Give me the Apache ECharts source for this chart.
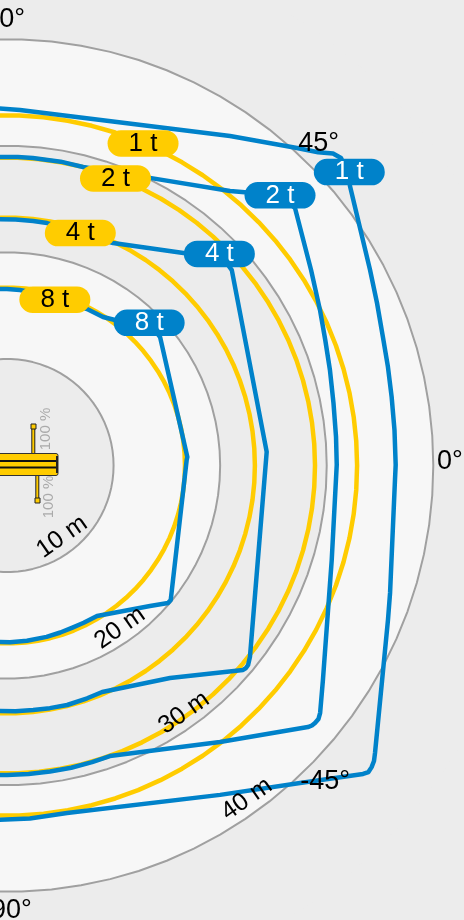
<!DOCTYPE html><html><head><meta charset="utf-8"><style>html,body{margin:0;background:#ececec}#c{width:464px;height:920px}</style></head><body><div id="c"></div>
<script src="https://cdn.jsdelivr.net/npm/echarts@6/dist/echarts.min.js"></script>
<script>
// [range in m, slewing angle in degrees]
const limit1t=[[33.57,92.1],[33.38,87.9],[37.33,55.9],[40.35,47.6],[41.43,45.2],[42.34,43.74],[42.6,42.64],[42.37,41.7],[42.3,40.6],[41.52,39.2],[38.69,28.3],[37.92,23.71],[37.28,18.9],[36.92,14.5],[36.66,10.1],[36.51,5.23],[36.47,0.1],[36.43,-2.1],[37.88,-18.4],[38.58,-22.1],[43.82,-38.0],[44.21,-38.84],[44.40,-39.6],[44.47,-40.3],[44.20,-40.9],[40.54,-47.3],[36.81,-57.1],[33.09,-80.2],[33.2,-86.3],[33.29,-92.1]];
const limit2t=[[28.97,92.4],[28.96,88],[28.96,85.2],[28.95,80],[28.90,75.7],[30.13,63.6],[33.18,50.9],[36.06,44.7],[36.25,41.8],[33.91,32.7],[32.79,26.4],[32.10,21.52],[31.60,16.5],[31.19,10.84],[30.99,5.0],[30.94,0.1],[31.73,-16.2],[35.84,-34.2],[37.44,-38.3],[37.68,-39.14],[37.67,-39.9],[37.6,-40.45],[37.41,-41.0],[32.75,-52.4],[28.92,-70.5],[28.95,-74],[28.99,-78],[29.0,-82],[29.02,-86],[29.05,-90],[29.07,-92.4]];
const limit4t=[[23.16,93.0],[23.1,88],[23.07,83.9],[23.06,80.6],[22.87,72.6],[23.13,64.5],[26.01,50.0],[28.17,44.8],[27.95,41.0],[24.40,3.0],[24.31,1.2],[29.01,-38.2],[29.36,-39.6],[29.39,-40.28],[29.30,-40.9],[25.13,-52.5],[23.05,-67.2],[23.1,-71],[23.17,-75.9],[23.12,-80],[23.07,-83.9],[23.07,-88],[23.07,-93.0]];
const limit8t=[[16.61,94.2],[16.55,90],[16.51,85.8],[16.4,80],[16.26,73.9],[16.49,62.9],[16.59,57.1],[17.00,53.4],[18.88,45.1],[18.75,40.0],[16.94,2.7],[16.87,1.8],[19.88,-39.4],[19.87,-40.5],[18.81,-44.5],[16.45,-59.1],[16.42,-64],[16.40,-68],[16.45,-72.3],[16.5,-77],[16.55,-83.5],[16.58,-89],[16.61,-94.2]];
const loads=['1 t','2 t','4 t','8 t'];
const radiusOn=[32.85,28.9,23.26,16.7];
const gridRadii=[10,20,30,40];
const arcAngles=[100,96,92,88,84,80,76,72,68,64,60,56,52,48,44,40,36,32,28,24,20,16,12,8,4,0,-4,-8,-12,-16,-20,-24,-28,-32,-36,-40,-44,-48,-52,-56,-60,-64,-68,-72,-76,-80,-84,-88,-92,-96,-100];
const yellowTags=[[32.81,67.1],[28.80,69.3],[22.87,72.5],[16.19,73.9]];
const blueTags=[[42.30,40.6],[36.04,44.7],[28.13,44.9],[18.90,45.1]];
const rangeTags=[[8.46,-52.4],[18.57,-55.2],[28.55,-54.4],[38.55,-54.3]];
const rangeNames=['10 m','20 m','30 m','40 m'];
const angleTags=[[41.85,90.3],[42.03,45.9],[41.55,0.45],[42.07,-44.8],[41.8,-90]];
const angleNames=['90°','45°','0°','-45°','-90°'];
const BLUE='#0082ca',YEL='#ffcc00',FONT='"Liberation Sans",Arial,sans-serif';
const limits=[limit1t,limit2t,limit4t,limit8t];
const line=(data,color,z,width)=>({type:'line',coordinateSystem:'polar',data,showSymbol:false,symbol:'none',clip:false,silent:true,z,
  lineStyle:{color,width,join:'round',cap:'round'}});
const tags=(data,bg,fg)=>({type:'scatter',coordinateSystem:'polar',clip:false,symbolSize:0,z:10,silent:true,itemStyle:{opacity:1},
  data:data.map((v,i)=>({value:v,name:loads[i]})),
  label:{show:true,position:'inside',formatter:'{b}',color:fg,fontFamily:FONT,fontSize:26,backgroundColor:bg,borderRadius:13.5,width:71,height:26.5,lineHeight:26.5,align:'center',verticalAlign:'middle'}});
const texts=(data,names,size,rotate)=>({type:'scatter',coordinateSystem:'polar',clip:false,symbolSize:0,z:6,silent:true,itemStyle:{opacity:1},
   data:data.map((v,i)=>({value:v,name:names[i]})),
   label:{show:true,position:'inside',formatter:'{b}',color:'#000',fontFamily:FONT,fontSize:size,rotate,align:'center',verticalAlign:'middle'}});
const grey=t=>Object.assign(t,{rotation:Math.PI/2,style:{text:'100 %',fill:'#aaaaaa',font:'15px '+FONT,align:'center',verticalAlign:'middle'}});
const crane=[
 {type:'line',shape:{x1:33.3,y1:427,x2:33.3,y2:454},style:{stroke:'#222',lineWidth:4}},
 {type:'line',shape:{x1:33.3,y1:427,x2:33.3,y2:454},style:{stroke:YEL,lineWidth:2}},
 {type:'rect',shape:{x:31,y:424,width:5,height:5},style:{fill:YEL,stroke:'#222',lineWidth:1}},
 {type:'line',shape:{x1:37.3,y1:475,x2:37.3,y2:500},style:{stroke:'#222',lineWidth:4}},
 {type:'line',shape:{x1:37.3,y1:475,x2:37.3,y2:500},style:{stroke:YEL,lineWidth:2}},
 {type:'rect',shape:{x:35,y:498,width:5,height:5},style:{fill:YEL,stroke:'#222',lineWidth:1}},
 {type:'rect',shape:{x:-4,y:453.5,width:62,height:22,r:2},style:{fill:YEL,stroke:'#333',lineWidth:1}},
 {type:'rect',shape:{x:-4,y:460,width:60,height:2},style:{fill:'#111'}},
 {type:'rect',shape:{x:-4,y:466.5,width:60,height:2},style:{fill:'#111'}},
 {type:'rect',shape:{x:56,y:456,width:2,height:17},style:{fill:'#222'}},
 grey({type:'text',x:45.5,y:429}),
 grey({type:'text',x:49,y:497})
].map(e=>Object.assign(e,{silent:true,z:20}));
const chart=echarts.init(document.getElementById('c'),null,{renderer:'canvas'});
chart.setOption({
 animation:false,backgroundColor:'#ececec',
 polar:{center:[7,465.5],radius:532.875},
 angleAxis:{type:'value',min:-180,max:180,interval:45,startAngle:180,clockwise:false,
  axisLine:{show:false},axisTick:{show:false},splitLine:{show:false},axisLabel:{show:false}},
 radiusAxis:{type:'value',min:0,max:50,interval:10,axisLine:{show:false},axisTick:{show:false},axisLabel:{show:false},
  splitLine:{show:false},
  splitArea:{show:true,areaStyle:{color:['#ececec','#f7f7f7']}}},
 graphic:{elements:crane},
 series:[
  ...gridRadii.map(r=>line(arcAngles.map(a=>[r,a]),'#a0a0a0',1,2)),
  ...radiusOn.map(r=>line(arcAngles.map(a=>[r,a]),YEL,2,4.5)),
  ...limits.map(d=>line(d,BLUE,3,4.5)),
  tags(yellowTags,YEL,'#000'),
  tags(blueTags,BLUE,'#fff'),
  texts(rangeTags,rangeNames,25,35),
  texts(angleTags,angleNames,27,0)
 ]});
</script></body></html>
